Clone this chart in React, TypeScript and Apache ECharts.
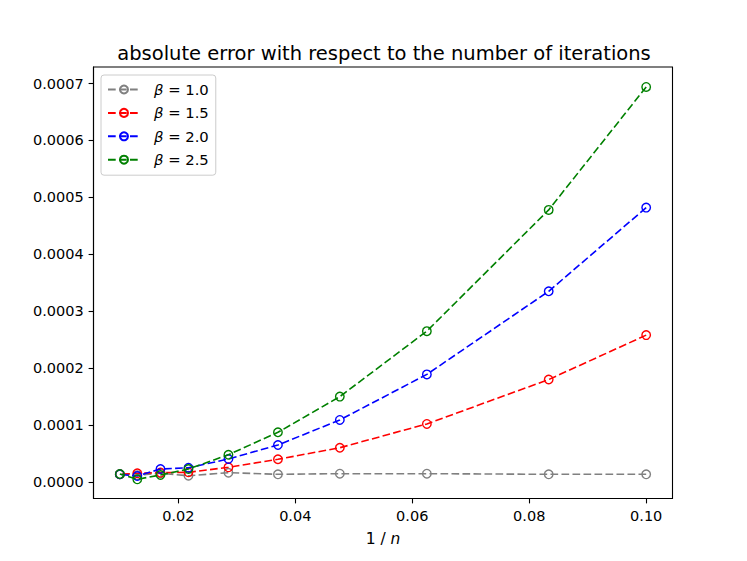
import React, { useEffect, useRef } from "react";
import * as echarts from "echarts";

// number of iterations n (x axis shows 1 / n)
const nValues = [10, 12, 16, 21, 27, 35, 46, 59, 77, 100];
const betaLabels = ["1.0", "1.5", "2.0", "2.5"];
const errBeta10 = [0.0000135, 0.0000135, 0.0000146, 0.0000146, 0.0000135, 0.0000163, 0.000011, 0.0000153, 0.000012, 0.0000135];
const errBeta15 = [0.000258, 0.00018, 0.000102, 0.0000602, 0.0000399, 0.0000258, 0.000017, 0.0000165, 0.0000153, 0.0000135];
const errBeta20 = [0.000482, 0.000335, 0.000189, 0.000109, 0.000065, 0.0000404, 0.000025, 0.0000228, 0.0000105, 0.0000135];
const errBeta25 = [0.000694, 0.000478, 0.000265, 0.00015, 0.0000873, 0.0000479, 0.0000228, 0.0000123, 0.0000047, 0.000014];
const xTicks = [0.02, 0.04, 0.06, 0.08, 0.1];
const yTicks = [0, 0.0001, 0.0002, 0.0003, 0.0004, 0.0005, 0.0006, 0.0007];
const colors = ["#808080", "#ff0000", "#0000ff", "#008000"];

const FONT = "DejaVu Sans";

export default function App() {
  const ref = useRef<HTMLDivElement>(null);
  useEffect(() => {
    if (!ref.current) return;
    const chart = echarts.init(ref.current, null, { renderer: "svg" });
    const allErr = [errBeta10, errBeta15, errBeta20, errBeta25];
    const series = allErr.map((vals, i) => ({
      name: `β = ${betaLabels[i]}`,
      type: "line",
      data: nValues.map((n, k) => [1 / n, vals[k]]),
      symbol: "circle",
      symbolSize: 8.5,
      showSymbol: true,
      lineStyle: { color: colors[i], width: 1.6, type: [7.7, 3.3] },
      itemStyle: { color: "rgba(0,0,0,0)", borderColor: colors[i], borderWidth: 1.4 },
      emphasis: { disabled: true },
      z: 2 + i,
    }));
    chart.setOption({
      animation: false,
      backgroundColor: "#ffffff",
      title: {
        text: "absolute error with respect to the number of iterations",
        left: 379,
        top: 38,
        textAlign: "center",
        textStyle: { fontFamily: FONT, fontSize: 19.5, fontWeight: "normal", color: "#000" },
      },
      grid: {
        left: 93.5,
        right: 74.5,
        top: 67,
        bottom: 62.5,
        show: true,
        borderColor: "#000",
        borderWidth: 1.1,
        backgroundColor: "#fff",
        containLabel: false,
      },
      legend: {
        orient: "vertical",
        left: 101,
        top: 75,
        padding: [7, 7, 8, 6],
        itemWidth: 32,
        itemHeight: 10,
        itemGap: 8.4,
        backgroundColor: "rgba(255,255,255,0.8)",
        borderColor: "#cccccc",
        borderWidth: 1,
        borderRadius: 3,
        data: series.map((s) => s.name),
        formatter: (name: string) => `{b|β} = ${name.split("= ")[1]}`,
        textStyle: {
          fontFamily: FONT,
          fontSize: 14.8,
          color: "#000",
          padding: [0, 0, 0, 9],
          rich: {
            b: { fontFamily: FONT, fontSize: 14.8, fontStyle: "italic", color: "#000" },
          },
        },
      },
      xAxis: {
        type: "value",
        min: 0.0055,
        max: 0.1045,
        name: "{a|1 / }{b|n}",
        nameLocation: "middle",
        nameGap: 32.5,
        nameTextStyle: {
          fontFamily: FONT,
          fontSize: 15.5,
          color: "#000",
          rich: {
            a: { fontFamily: FONT, fontSize: 15.5, color: "#000" },
            b: { fontFamily: FONT, fontSize: 15.5, fontStyle: "italic", color: "#000" },
          },
        },
        axisLine: { show: true, onZero: false, lineStyle: { color: "#000", width: 1.1 } },
        axisTick: { show: true, inside: false, length: 4.9, customValues: xTicks, lineStyle: { color: "#000", width: 1.1 } },
        axisLabel: {
          customValues: xTicks,
          margin: 9.8,
          fontFamily: FONT,
          fontSize: 14.5,
          color: "#000",
          formatter: (v: number) => v.toFixed(2),
        },
        splitLine: { show: false },
      },
      yAxis: {
        type: "value",
        min: -0.000029,
        max: 0.000729,
        axisLine: { show: true, onZero: false, lineStyle: { color: "#000", width: 1.1 } },
        axisTick: { show: true, inside: false, length: 4.9, customValues: yTicks, lineStyle: { color: "#000", width: 1.1 } },
        axisLabel: {
          customValues: yTicks,
          margin: 9.8,
          fontFamily: FONT,
          fontSize: 14.5,
          color: "#000",
          formatter: (v: number) => v.toFixed(4),
        },
        splitLine: { show: false },
      },
      series,
    });
    return () => chart.dispose();
  }, []);
  return (
    <div
      ref={ref}
      style={{ position: "absolute", left: 0, top: 0, width: 747, height: 561, background: "#fff" }}
    />
  );
}
